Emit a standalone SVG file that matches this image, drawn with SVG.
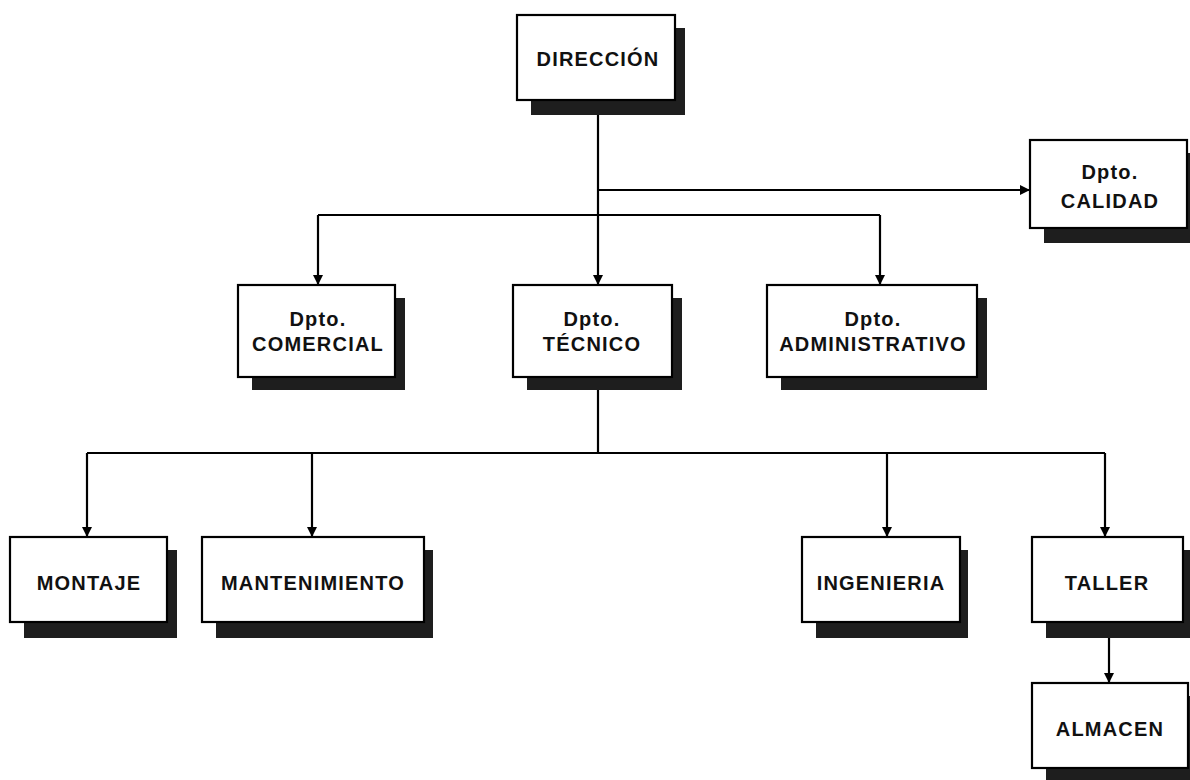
<svg xmlns="http://www.w3.org/2000/svg" width="1190" height="780" viewBox="0 0 1190 780">
<defs>
<style>
.box{fill:#fff;stroke:#000;stroke-width:2.2}
.sh{fill:#1e1e1e}
.t{font-family:"Liberation Sans",Arial,sans-serif;font-weight:bold;font-size:20px;letter-spacing:1.2px;text-anchor:middle;fill:#111}
.c{fill:none;stroke:#000;stroke-width:2.2}
</style>
<marker id="ah" markerUnits="userSpaceOnUse" markerWidth="10" markerHeight="12" refX="10" refY="5" orient="auto">
<path d="M0,0 L10,5 L0,10 z" fill="#000"/>
</marker>
</defs>
<rect width="1190" height="780" fill="#fff"/>
<g id="connectors">
<path class="c" d="M598,100 V285" marker-end="url(#ah)"/>
<path class="c" d="M598,190 H1030" marker-end="url(#ah)"/>
<path class="c" d="M318,215 H880"/>
<path class="c" d="M318,215 V285" marker-end="url(#ah)"/>
<path class="c" d="M880,215 V285" marker-end="url(#ah)"/>
<path class="c" d="M598,377 V453"/>
<path class="c" d="M87,453 H1105"/>
<path class="c" d="M87,453 V537" marker-end="url(#ah)"/>
<path class="c" d="M312,453 V537" marker-end="url(#ah)"/>
<path class="c" d="M887,453 V537" marker-end="url(#ah)"/>
<path class="c" d="M1105,453 V537" marker-end="url(#ah)"/>
<path class="c" d="M1109,622 V683" marker-end="url(#ah)"/>
</g>
<g id="direccion">
<rect class="sh" x="531" y="28" width="154" height="87"/>
<rect class="box" x="517" y="15" width="158" height="85"/>
<text class="t" x="598" y="66">DIRECCIÓN</text>
</g>
<g id="calidad">
<rect class="sh" x="1044" y="153" width="146" height="90"/>
<rect class="box" x="1030" y="140" width="157" height="88"/>
<text class="t" x="1110" y="179">Dpto.</text>
<text class="t" x="1110" y="208">CALIDAD</text>
</g>
<g id="comercial">
<rect class="sh" x="252" y="298" width="153" height="92"/>
<rect class="box" x="238" y="285" width="157" height="92"/>
<text class="t" x="318" y="326">Dpto.</text>
<text class="t" x="318" y="351">COMERCIAL</text>
</g>
<g id="tecnico">
<rect class="sh" x="527" y="298" width="155" height="92"/>
<rect class="box" x="513" y="285" width="159" height="92"/>
<text class="t" x="592" y="326">Dpto.</text>
<text class="t" x="592" y="351">TÉCNICO</text>
</g>
<g id="administrativo">
<rect class="sh" x="781" y="298" width="206" height="92"/>
<rect class="box" x="767" y="285" width="210" height="92"/>
<text class="t" x="873" y="326">Dpto.</text>
<text class="t" x="873" y="351">ADMINISTRATIVO</text>
</g>
<g id="montaje">
<rect class="sh" x="24" y="550" width="153" height="88"/>
<rect class="box" x="10" y="537" width="157" height="85"/>
<text class="t" x="89" y="590">MONTAJE</text>
</g>
<g id="mantenimiento">
<rect class="sh" x="216" y="550" width="217" height="88"/>
<rect class="box" x="202" y="537" width="222" height="85"/>
<text class="t" x="313" y="590">MANTENIMIENTO</text>
</g>
<g id="ingenieria">
<rect class="sh" x="816" y="550" width="152" height="88"/>
<rect class="box" x="802" y="537" width="158" height="85"/>
<text class="t" x="881" y="590">INGENIERIA</text>
</g>
<g id="taller">
<rect class="sh" x="1046" y="550" width="144" height="88"/>
<rect class="box" x="1032" y="537" width="151" height="85"/>
<text class="t" x="1107" y="590">TALLER</text>
</g>
<g id="almacen">
<rect class="sh" x="1046" y="696" width="144" height="88"/>
<rect class="box" x="1032" y="683" width="156" height="85"/>
<text class="t" x="1110" y="736">ALMACEN</text>
</g>
</svg>
